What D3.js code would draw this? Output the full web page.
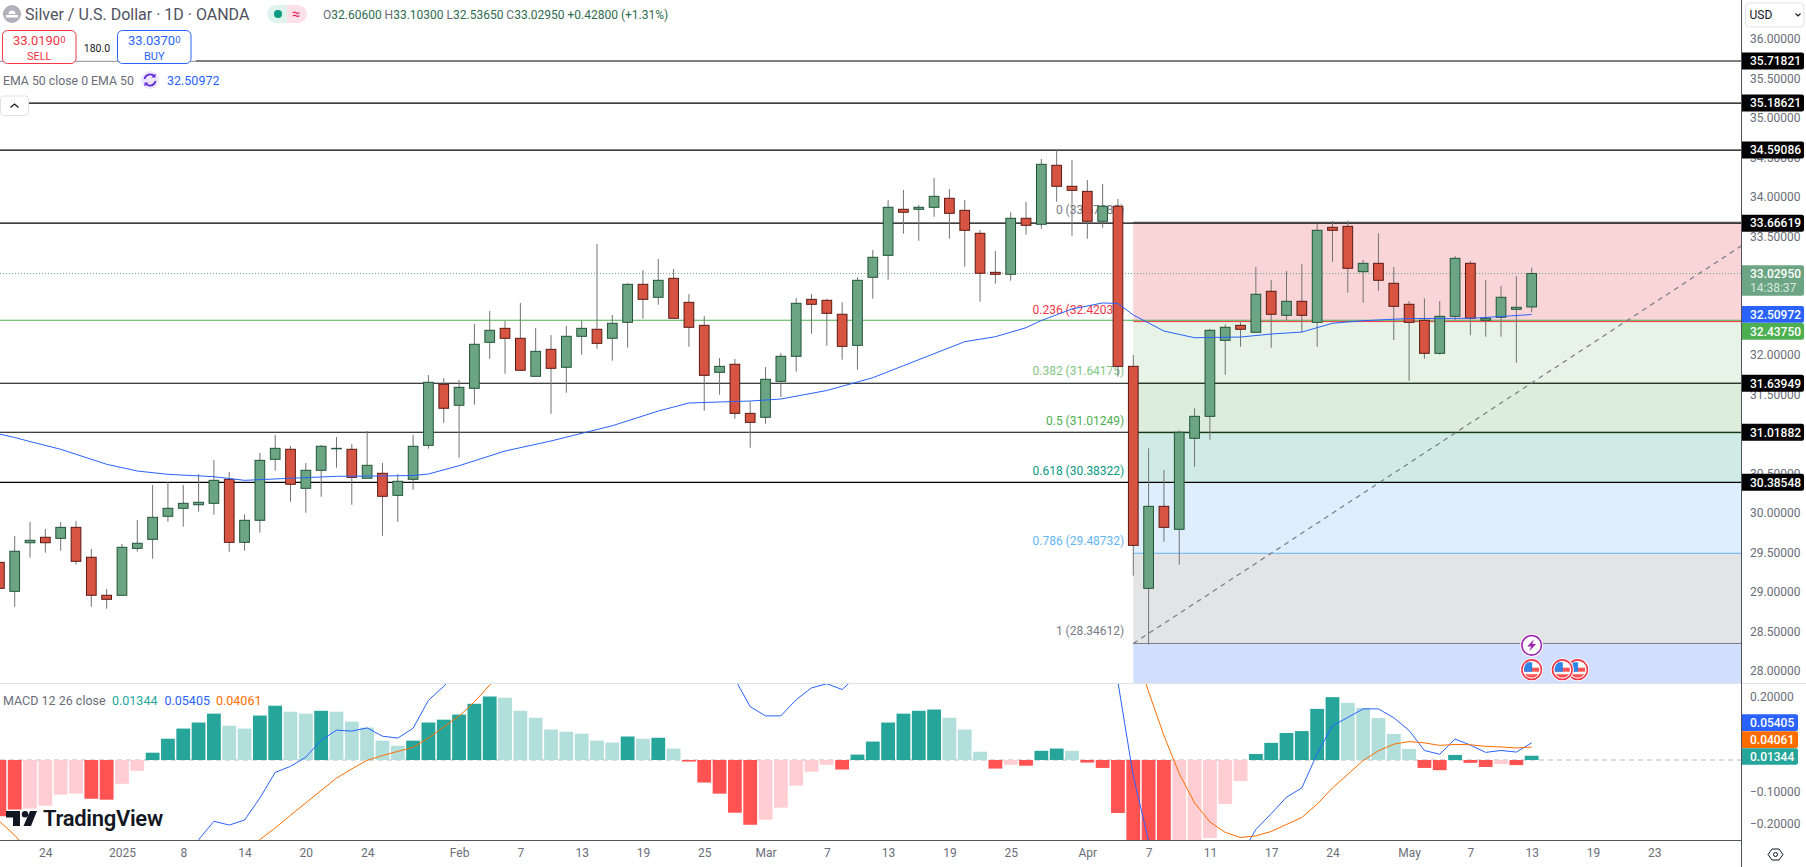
<!DOCTYPE html>
<html>
<head>
<meta charset="utf-8">
<script src="https://cdn.jsdelivr.net/npm/d3@7"></script>
<style>
  html, body { margin: 0; padding: 0; background: #fff; }
  svg { display: block; }
  text { font-family: Roboto, "Liberation Sans", sans-serif; }
</style>
</head>
<body>
<svg id="chart" width="1806" height="867"></svg>
<script>
// Daily candles, oldest first (first one is cut by the left edge)
var opens = [
  29.373, 29.006, 29.621, 29.690, 29.677, 29.816, 29.437, 28.956, 28.956, 29.550,
  29.664, 29.956, 30.057, 30.102, 30.120, 30.424, 29.626, 29.905, 30.677, 30.804,
  30.310, 30.538, 30.810, 30.804, 30.437, 30.500, 30.221, 30.424, 30.854, 31.626,
  31.361, 31.576, 32.158, 32.335, 32.209, 31.728, 32.069, 31.842, 32.234, 32.323,
  32.209, 32.411, 32.892, 32.728, 32.968, 32.664, 32.373, 31.778, 31.880, 31.259,
  31.209, 31.664, 31.981, 32.702, 32.690, 32.513, 32.120, 32.981, 33.259, 33.842,
  33.842, 33.867, 33.981, 33.829, 33.538, 33.044, 33.019, 33.728, 33.652, 34.399,
  34.133, 34.069, 33.690, 33.880, 31.854, 29.044, 30.082, 29.791, 30.943, 31.221,
  32.183, 32.373, 32.285, 32.804, 32.500, 32.677, 32.411, 33.614, 33.626, 33.052,
  33.158, 32.905, 32.639, 32.437, 32.019, 32.487, 33.158, 32.437, 32.475, 32.576,
  32.606];
var highs = [
  29.373, 29.706, 29.883, 29.795, 29.883, 29.896, 29.542, 29.035, 29.605, 29.909,
  30.352, 30.390, 30.352, 30.491, 30.668, 30.516, 29.981, 30.757, 30.985, 30.845,
  30.630, 30.858, 30.959, 30.871, 31.035, 30.630, 30.491, 30.985, 31.744, 31.706,
  31.681, 32.390, 32.554, 32.432, 32.656, 32.339, 32.250, 32.364, 32.432, 33.402,
  32.504, 32.905, 33.073, 33.213, 33.086, 32.769, 32.491, 31.959, 31.947, 31.411,
  31.845, 32.023, 32.719, 32.769, 32.706, 32.664, 32.981, 33.326, 33.959, 34.086,
  33.896, 34.238, 34.099, 33.959, 33.580, 33.314, 33.804, 33.934, 34.478, 34.592,
  34.466, 34.213, 34.162, 33.972, 31.997, 30.816, 30.542, 31.044, 31.323, 32.326,
  32.386, 32.411, 33.111, 32.947, 33.061, 33.149, 33.664, 33.694, 33.697, 33.200,
  33.538, 33.111, 32.681, 32.715, 32.681, 33.250, 33.187, 32.947, 32.871, 32.997,
  33.103];
var lows = [
  29.044, 28.811, 29.432, 29.495, 29.520, 29.343, 28.811, 28.786, 28.956, 29.507,
  29.419, 29.887, 29.824, 30.014, 29.976, 29.507, 29.520, 29.748, 30.533, 30.140,
  30.001, 30.204, 30.571, 30.102, 30.437, 29.710, 29.887, 30.292, 30.811, 31.140,
  30.697, 31.368, 31.950, 31.761, 31.804, 31.728, 31.254, 31.520, 32.001, 32.077,
  31.925, 32.090, 32.457, 32.634, 32.462, 32.102, 31.292, 31.495, 31.191, 30.824,
  31.128, 31.466, 31.786, 32.267, 32.115, 31.938, 31.811, 32.710, 32.950, 33.533,
  33.444, 33.748, 33.469, 33.115, 32.672, 32.900, 32.938, 33.520, 33.596, 33.938,
  33.507, 33.469, 33.609, 31.723, 29.204, 28.335, 29.634, 29.343, 30.583, 30.925,
  31.748, 32.102, 32.285, 32.090, 32.432, 32.285, 32.102, 33.178, 32.786, 32.659,
  32.811, 32.187, 31.672, 31.950, 32.001, 32.440, 32.250, 32.229, 32.229, 31.900,
  32.5365];
var closes = [
  29.044, 29.513, 29.652, 29.621, 29.816, 29.386, 28.956, 28.905, 29.563, 29.614,
  29.943, 30.057, 30.120, 30.133, 30.411, 29.626, 29.905, 30.664, 30.816, 30.361,
  30.538, 30.842, 30.816, 30.449, 30.601, 30.209, 30.399, 30.842, 31.652, 31.323,
  31.588, 32.133, 32.310, 32.209, 31.804, 32.044, 31.829, 32.234, 32.335, 32.145,
  32.399, 32.892, 32.702, 32.943, 32.462, 32.348, 31.740, 31.854, 31.259, 31.145,
  31.690, 31.981, 32.652, 32.639, 32.525, 32.107, 32.943, 33.234, 33.867, 33.804,
  33.867, 34.006, 33.791, 33.576, 33.032, 33.019, 33.728, 33.639, 34.411, 34.133,
  34.082, 33.690, 33.880, 31.854, 29.588, 30.082, 29.816, 31.019, 31.221, 32.310,
  32.348, 32.323, 32.766, 32.513, 32.677, 32.500, 33.576, 33.576, 33.095, 33.158,
  32.943, 32.614, 32.411, 32.019, 32.487, 33.221, 32.462, 32.462, 32.728, 32.601,
  33.0295];

// EMA 50, read at these candle positions
var emaDays = [0, 1, 2, 4, 7, 9, 11, 14, 16, 19, 22, 25, 27, 28, 30, 33, 36, 40, 43, 45, 49, 51, 54, 57, 59, 63, 65, 67, 68, 70, 72, 73, 74, 76, 78, 81, 83, 85, 87, 89, 92, 96, 98, 100];
var emaValues = [30.997, 30.953, 30.902, 30.804, 30.614, 30.529, 30.487, 30.457, 30.411, 30.437, 30.462, 30.466, 30.472, 30.491, 30.596, 30.782, 30.909, 31.102, 31.288, 31.390, 31.415, 31.440, 31.548, 31.710, 31.862, 32.166, 32.229, 32.343, 32.434, 32.580, 32.656, 32.649, 32.504, 32.301, 32.216, 32.225, 32.263, 32.288, 32.399, 32.432, 32.459, 32.462, 32.485, 32.50972];

// Drawn levels
var levelPrices = [35.71821, 35.18621, 34.59086, 33.66619, 31.63949, 31.01882, 30.38548];
var greenLevel = 32.43750;
var lastPrice = 33.02950;

// Fibonacci retracement
var fibRatios = ["0", "0.236", "0.382", "0.5", "0.618", "0.786", "1"];
var fibPrices = [33.67885, 32.42033, 31.64175, 31.01249, 30.38322, 29.48732, 28.34612];
var trendDays = [74, 113.7];
var trendPrices = [28.34612, 33.381];

// MACD histogram, one value per candle (the deep ones run past the pane bottom)
var histValues = [
  -0.177, -0.156, -0.153, -0.144, -0.109, -0.106, -0.122, -0.125, -0.075, -0.034,
  0.023, 0.067, 0.099, 0.118, 0.146, 0.108, 0.099, 0.140, 0.171, 0.152,
  0.146, 0.155, 0.152, 0.121, 0.102, 0.061, 0.045, 0.061, 0.118, 0.127,
  0.143, 0.177, 0.200, 0.196, 0.155, 0.133, 0.096, 0.089, 0.083, 0.061,
  0.055, 0.074, 0.067, 0.070, 0.036, -0.005, -0.071, -0.106, -0.166, -0.204,
  -0.188, -0.150, -0.081, -0.037, -0.015, -0.030, 0.017, 0.058, 0.118, 0.146,
  0.155, 0.159, 0.133, 0.096, 0.026, -0.027, -0.015, -0.018, 0.029, 0.036,
  0.029, -0.008, -0.025, -0.167, -0.310, -0.360, -0.400, -0.350, -0.300, -0.246,
  -0.139, -0.066, 0.019, 0.054, 0.085, 0.091, 0.161, 0.198, 0.180, 0.164,
  0.132, 0.082, 0.035, -0.025, -0.032, 0.016, -0.009, -0.022, -0.013, -0.016,
  0.01344];

// MACD and signal lines, read where they show in the pane
var macdDays = [12, 13, 14, 15, 16, 17, 18, 19, 20, 21, 22, 23, 24, 25, 26, 27, 28, 29, 30, 47, 48, 49, 50, 51, 52, 53, 54, 55, 56, 72, 73, 74, 75, 76, 77, 78, 79, 80, 81, 82, 83, 84, 85, 86, 87, 88, 89, 90, 91, 92, 93, 94, 95, 96, 97, 98, 99, 100];
var macdValues = [-0.330, -0.251, -0.193, -0.205, -0.189, -0.120, -0.039, -0.020, 0.009, 0.062, 0.094, 0.091, 0.101, 0.075, 0.069, 0.100, 0.188, 0.232, 0.290, 0.320, 0.255, 0.168, 0.139, 0.139, 0.190, 0.227, 0.240, 0.222, 0.266, 0.450, 0.245, -0.051, -0.255, -0.420, -0.470, -0.470, -0.420, -0.360, -0.302, -0.219, -0.169, -0.117, -0.088, 0.020, 0.108, 0.134, 0.161, 0.161, 0.133, 0.093, 0.030, 0.018, 0.066, 0.047, 0.024, 0.030, 0.025, 0.05405];
var signalDays = [0, 1, 2, 16, 17, 18, 19, 20, 21, 22, 23, 24, 25, 26, 27, 28, 29, 30, 31, 32, 33, 74, 75, 76, 77, 78, 79, 80, 81, 82, 83, 84, 85, 86, 87, 88, 89, 90, 91, 92, 93, 94, 95, 96, 97, 98, 99, 100];
var signalValues = [-0.193, -0.237, -0.290, -0.290, -0.251, -0.214, -0.174, -0.135, -0.096, -0.057, -0.028, -0.001, 0.014, 0.027, 0.040, 0.069, 0.104, 0.138, 0.183, 0.236, 0.280, 0.360, 0.215, 0.077, -0.043, -0.135, -0.195, -0.228, -0.244, -0.239, -0.225, -0.203, -0.181, -0.139, -0.088, -0.045, -0.002, 0.029, 0.050, 0.058, 0.054, 0.046, 0.049, 0.048, 0.043, 0.041, 0.038, 0.04061];

// Axis labels
var priceTicks = [36, 35.5, 35, 34.5, 34, 33.5, 33, 32.5, 32, 31.5, 31, 30.5, 30, 29.5, 29, 28.5, 28];
var macdTicks = [0.2, -0.1, -0.2];
var timeTicks = [3, 8, 12, 16, 20, 24, 30, 34, 38, 42, 46, 50, 54, 58, 62, 66, 71, 75, 79, 83, 87, 92, 96, 100, 104, 108];
var timeLabels = ["24", "2025", "8", "14", "20", "24", "Feb", "7", "13", "19", "25", "Mar", "7", "13", "19", "25", "Apr", "7", "11", "17", "24", "May", "7", "13", "19", "23"];
var eventDays = [100, 102, 103];

var W = 1806, H = 867;
var axisX = 1741.5, paneBottom = 683, macdBottom = 840;
var GREY = "#6a6d78";
var fmt = d3.format(".5f");

var svg = d3.select("#chart");

var x = d3.scaleLinear().domain([0, 100]).range([-0.62, 1531.68]);
var y = d3.scaleLinear().domain([36, 28]).range([38.8, 670.8]);
var yMacd = d3.scaleLinear().domain([0.2, -0.2]).range([696.5, 823.5]);

svg.append("rect").attr("width", W).attr("height", H).attr("fill", "#fff");

var defs = svg.append("defs");
defs.append("clipPath").attr("id", "priceClip").append("rect")
  .attr("width", axisX).attr("height", paneBottom);
defs.append("clipPath").attr("id", "macdClip").append("rect")
  .attr("y", paneBottom).attr("width", axisX).attr("height", macdBottom - paneBottom);

// ---- price pane ----
var pricePane = svg.append("g").attr("clip-path", "url(#priceClip)");

// Fib bands
var fibFills = ["#fad5d8", "#e6f3e6", "#dceedb", "#d0ebe5", "#dfeefc", "#e3e4e6", "#d1dffd"];
var fibLines = ["#787b86", "#f23645", "#81c784", "#4caf50", "#089981", "#64b5f6", "#787b86"];
var fibLeft = x(74);
pricePane.selectAll("rect.fib").data(fibPrices).join("rect")
  .attr("class", "fib")
  .attr("x", fibLeft)
  .attr("width", axisX - fibLeft)
  .attr("y", d => y(d))
  .attr("height", (d, i) => (i < fibPrices.length - 1 ? y(fibPrices[i + 1]) : paneBottom) - y(d))
  .attr("fill", (d, i) => fibFills[i]);
pricePane.selectAll("line.fib").data(fibPrices).join("line")
  .attr("class", "fib")
  .attr("x1", fibLeft).attr("x2", axisX)
  .attr("y1", d => y(d)).attr("y2", d => y(d))
  .attr("stroke", (d, i) => fibLines[i]);
pricePane.selectAll("text.fib").data(fibPrices).join("text")
  .attr("class", "fib")
  .attr("x", fibLeft - 9)
  .attr("y", d => y(d) - 8)
  .attr("text-anchor", "end")
  .attr("font-size", 12)
  .attr("fill", (d, i) => fibLines[i])
  .text((d, i) => fibRatios[i] + " (" + fmt(d) + ")");

// Levels
pricePane.selectAll("line.level").data(levelPrices).join("line")
  .attr("class", "level")
  .attr("x1", 0).attr("x2", axisX)
  .attr("y1", d => y(d)).attr("y2", d => y(d))
  .attr("stroke", "#000").attr("stroke-width", 1.1);
pricePane.append("line")
  .attr("x1", 0).attr("x2", axisX)
  .attr("y1", y(greenLevel)).attr("y2", y(greenLevel))
  .attr("stroke", "#4caf50").attr("stroke-width", 1.1);
pricePane.append("line")
  .attr("x1", 0).attr("x2", axisX)
  .attr("y1", y(lastPrice)).attr("y2", y(lastPrice))
  .attr("stroke", "#6ba583").attr("stroke-dasharray", "1 2");

// Trend line of the fib tool
pricePane.append("line")
  .attr("x1", x(trendDays[0])).attr("x2", x(trendDays[1]))
  .attr("y1", y(trendPrices[0])).attr("y2", y(trendPrices[1]))
  .attr("stroke", "#787b86").attr("stroke-width", 1.2).attr("stroke-dasharray", "5 4.5");

// Candles
var candles = pricePane.selectAll("g.candle").data(opens).join("g").attr("class", "candle");
candles.append("line")
  .attr("x1", (d, i) => x(i)).attr("x2", (d, i) => x(i))
  .attr("y1", (d, i) => y(highs[i])).attr("y2", (d, i) => y(lows[i]))
  .attr("stroke", "#737375");
candles.append("rect")
  .attr("x", (d, i) => x(i) - 4.85)
  .attr("width", 9.7)
  .attr("y", (d, i) => y(Math.max(d, closes[i])))
  .attr("height", (d, i) => Math.abs(y(d) - y(closes[i])))
  .attr("fill", (d, i) => closes[i] >= d ? "#6ba583" : "#d75442")
  .attr("stroke", (d, i) => closes[i] >= d ? "#225437" : "#5b1a13");

// EMA
var emaLine = d3.line().x((d, i) => x(emaDays[i])).y(d => y(d));
pricePane.append("path")
  .attr("d", emaLine(emaValues))
  .attr("fill", "none").attr("stroke", "#2962ff");

// ---- MACD pane ----
var macdPane = svg.append("g").attr("clip-path", "url(#macdClip)");
macdPane.append("line")
  .attr("x1", 0).attr("x2", axisX)
  .attr("y1", yMacd(0)).attr("y2", yMacd(0))
  .attr("stroke", "#b2b5be").attr("stroke-dasharray", "5 4");

function histColor(d, i) {
  var rising = i > 0 && d > histValues[i - 1];
  if (d >= 0) return rising ? "#26a69a" : "#b2dfdb";
  // the two leftmost bars are dark in the picture
  return (i < 2 || !rising) ? "#ff5252" : "#ffcdd2";
}
macdPane.selectAll("rect.hist").data(histValues).join("rect")
  .attr("class", "hist")
  .attr("x", (d, i) => x(i) - 6.9)
  .attr("width", 13.8)
  .attr("y", d => Math.min(yMacd(d), yMacd(0)))
  .attr("height", d => Math.abs(yMacd(d) - yMacd(0)))
  .attr("fill", histColor);

var macdLine = d3.line().x((d, i) => x(macdDays[i])).y(d => yMacd(d));
var signalLine = d3.line().x((d, i) => x(signalDays[i])).y(d => yMacd(d));
macdPane.append("path").attr("d", macdLine(macdValues))
  .attr("fill", "none").attr("stroke", "#2962ff");
macdPane.append("path").attr("d", signalLine(signalValues))
  .attr("fill", "none").attr("stroke", "#ff6d00");

// TradingView logo
var logo = svg.append("g").attr("transform", "translate(6,811)").attr("fill", "#131722");
logo.append("path").attr("d", "M0 0H14V15H7V6.5H0Z");
logo.append("circle").attr("cx", 19).attr("cy", 3.2).attr("r", 3.2);
logo.append("path").attr("d", "M24 0H31L25 15H17.5Z");
svg.append("text").attr("x", 43).attr("y", 825.5)
  .attr("font-size", 22).attr("font-weight", 600).attr("fill", "#131722")
  .attr("letter-spacing", "-0.3")
  .text("TradingView");

// ---- axes ----
svg.append("line").attr("x1", 0).attr("x2", W)
  .attr("y1", paneBottom + 0.5).attr("y2", paneBottom + 0.5).attr("stroke", "#e0e3eb");
svg.append("line").attr("x1", 0).attr("x2", axisX)
  .attr("y1", macdBottom + 0.5).attr("y2", macdBottom + 0.5).attr("stroke", "#50535e");
svg.append("line").attr("x1", axisX).attr("x2", axisX)
  .attr("y1", 0).attr("y2", H).attr("stroke", "#50535e");

function styleAxis(g) {
  g.select(".domain").remove();
  g.selectAll("text").attr("fill", GREY).attr("font-size", 12)
    .style("font-family", "Roboto, 'Liberation Sans', sans-serif");
}
svg.append("g").attr("transform", "translate(1750,0)")
  .call(d3.axisRight(y).tickValues(priceTicks).tickSize(0).tickPadding(0).tickFormat(fmt))
  .call(styleAxis);
svg.append("g").attr("transform", "translate(1750,0)")
  .call(d3.axisRight(yMacd).tickValues(macdTicks).tickSize(0).tickPadding(0).tickFormat(fmt))
  .call(styleAxis);
svg.append("g").attr("transform", "translate(0," + macdBottom + ")")
  .call(d3.axisBottom(x).tickValues(timeTicks).tickSize(0).tickPadding(8).tickFormat((d, i) => timeLabels[i]))
  .call(styleAxis);

// ---- value tags on the right axis ----
function tag(yPos, h, w, fill, label, textY) {
  svg.append("path")
    .attr("d", "M" + (axisX + 0.5) + " " + (yPos - h / 2) + "h" + (w - 2) + "a2 2 0 0 1 2 2v" + (h - 4) + "a2 2 0 0 1 -2 2h" + (2 - w) + "Z")
    .attr("fill", fill);
  svg.append("text").attr("x", 1750).attr("y", textY || yPos + 4.3)
    .attr("font-size", 12).attr("font-weight", 500).attr("fill", "#fff").text(label);
}
levelPrices.forEach(d => tag(y(d), 17, 62, "#000", fmt(d)));
tag(280.5, 30.5, 62, "#6ba583", fmt(lastPrice), 277.5);
svg.append("text").attr("x", 1750).attr("y", 291.5).attr("font-size", 12)
  .attr("fill", "#d8e8df").text("14:38:37");
tag(314.3, 16.7, 62, "#2962ff", fmt(emaValues[emaValues.length - 1]));
tag(331.3, 16.7, 62, "#4caf50", fmt(greenLevel));
tag(722.7, 16.7, 56, "#2962ff", fmt(macdValues[macdValues.length - 1]));
tag(739.6, 16.7, 56, "#ff6d00", fmt(signalValues[signalValues.length - 1]));
tag(756.5, 16.7, 56, "#26a69a", fmt(histValues[histValues.length - 1]));

// USD button
svg.append("rect").attr("x", 1745.5).attr("y", 3).attr("width", 58.5).attr("height", 24)
  .attr("rx", 4).attr("fill", "#fff").attr("stroke", "#e0e3eb");
svg.append("text").attr("x", 1749.5).attr("y", 19).attr("font-size", 12).attr("fill", "#131722").text("USD");
svg.append("path").attr("d", "M1795.5 13.5l2.5 2.5l2.5 -2.5").attr("fill", "none").attr("stroke", "#131722").attr("stroke-width", 1.1);

// Settings hexagon
var gear = svg.append("g").attr("transform", "translate(1775.5,854.5)").attr("fill", "none").attr("stroke", "#131722");
gear.append("path").attr("d", "M-7.5 0L-3.5 -5.5H3.5L7.5 0L3.5 5.5H-3.5Z");
gear.append("circle").attr("r", 2);

// ---- events ----
function flagIcon(cx) {
  var g = svg.append("g").attr("transform", "translate(" + cx + "," + 669.7 + ")");
  g.append("circle").attr("r", 11.5).attr("fill", "#fff");
  g.append("circle").attr("r", 9.8).attr("fill", "#fff").attr("stroke", "#f23645").attr("stroke-width", 1.6);
  g.append("path").attr("d", "M-7.5 -2H7.5V2H-7.5Z").attr("fill", "#ff5252");
  g.append("path").attr("d", "M-6.5 4.5H6.5A8 8 0 0 1 -6.5 4.5Z").attr("fill", "#ff5252");
  g.append("path").attr("d", "M-7.5 -1.5V2H0.5V-7.5H-4A8 8 0 0 0 -7.5 -1.5Z").attr("fill", "#2f86e6");
}
eventDays.slice().reverse().forEach(d => flagIcon(x(d)));
var bolt = svg.append("g").attr("transform", "translate(" + x(eventDays[0]) + ",645.3)");
bolt.append("circle").attr("r", 11.5).attr("fill", "#fff");
bolt.append("circle").attr("r", 9.8).attr("fill", "#fff").attr("stroke", "#9c27b0").attr("stroke-width", 1.6);
bolt.append("path").attr("d", "M2.5 -6L-4.5 1.2H-0.5L-2.5 6L4.5 -1.2H0.5Z").attr("fill", "#9c27b0");

// ---- legend ----
svg.append("circle").attr("cx", 12).attr("cy", 14).attr("r", 9).attr("fill", "#b2b0bb");
svg.append("path").attr("d", "M6 15h12v2.5h-12zM8.5 14a3.5 3.5 0 0 1 7 0z").attr("fill", "#fff");
svg.append("text").attr("x", 25).attr("y", 19.5).attr("font-size", 16).attr("fill", "#4f525e")
  .text("Silver / U.S. Dollar · 1D · OANDA");

svg.append("path").attr("d", "M287 5H276a9 9 0 0 0 0 18H287Z").attr("fill", "#dff3ee");
svg.append("path").attr("d", "M287 5H298a9 9 0 0 1 0 18H287Z").attr("fill", "#fde0e8");
svg.append("circle").attr("cx", 278).attr("cy", 14).attr("r", 4).attr("fill", "#089981");
svg.append("text").attr("x", 296).attr("y", 19).attr("text-anchor", "middle")
  .attr("font-size", 15).attr("fill", "#e91e63").text("≈");

var ohlc = svg.append("text").attr("x", 323).attr("y", 19).attr("font-size", 12);
[["O", GREY], ["32.60600", "#2e6b4f"], [" H", GREY], ["33.10300", "#2e6b4f"], [" L", GREY], ["32.53650", "#2e6b4f"], [" C", GREY], ["33.02950", "#2e6b4f"], [" +0.42800 (+1.31%)", "#2e6b4f"]]
  .forEach(p => ohlc.append("tspan").attr("fill", p[1]).attr("xml:space", "preserve").text(p[0]));

// Sell / buy boxes sit on top of the first level line
svg.append("rect").attr("x", 0).attr("y", 28).attr("width", 196).attr("height", 37).attr("fill", "#fff");
svg.append("line").attr("x1", 0).attr("x2", 196).attr("y1", 61.3).attr("y2", 61.3).attr("stroke", "#8a8d96");
function quoteBox(bx, color, price, small, side) {
  svg.append("rect").attr("x", bx).attr("y", 30.5).attr("width", 73.5).attr("height", 33)
    .attr("rx", 5).attr("fill", "#fff").attr("stroke", color);
  var t = svg.append("text").attr("x", bx + 36.7).attr("y", 45).attr("text-anchor", "middle")
    .attr("font-size", 13).attr("fill", color).text(price);
  t.append("tspan").attr("font-size", 9.5).attr("dy", -2).text(small);
  svg.append("text").attr("x", bx + 36.7).attr("y", 59.5).attr("text-anchor", "middle")
    .attr("font-size", 11).attr("fill", color).text(side);
}
quoteBox(2.5, "#f23645", "33.0190", "0", "SELL");
quoteBox(117.5, "#2962ff", "33.0370", "0", "BUY");
svg.append("text").attr("x", 97).attr("y", 51.5).attr("text-anchor", "middle")
  .attr("font-size", 10.5).attr("fill", "#131722").text("180.0");

// EMA legend
svg.append("text").attr("x", 3).attr("y", 85).attr("font-size", 12.3).attr("fill", GREY)
  .text("EMA 50 close 0 EMA 50");
svg.append("circle").attr("cx", 150).attr("cy", 80).attr("r", 9).attr("fill", "#efe5fd");
svg.append("path").attr("d", "M144.5 79a5.7 5.7 0 0 1 10 -2.5M155.5 81a5.7 5.7 0 0 1 -10 2.5")
  .attr("fill", "none").attr("stroke", "#5e2bd8").attr("stroke-width", 1.7);
svg.append("path").attr("d", "M155.5 73.5v4h-4zM144.5 86.5v-4h4z").attr("fill", "#5e2bd8");
svg.append("text").attr("x", 167).attr("y", 85).attr("font-size", 12.5).attr("fill", "#2962ff")
  .text(fmt(emaValues[emaValues.length - 1]));

// Collapse button
svg.append("rect").attr("x", 0.5).attr("y", 96).attr("width", 28).attr("height", 19.5)
  .attr("rx", 3).attr("fill", "#fff").attr("stroke", "#e0e3eb");
svg.append("path").attr("d", "M10.5 107.5l4 -3.5l4 3.5").attr("fill", "none").attr("stroke", "#131722").attr("stroke-width", 1.3);

// MACD legend
svg.append("text").attr("x", 3).attr("y", 705).attr("font-size", 12.5).attr("fill", GREY).text("MACD 12 26 close");
svg.append("text").attr("x", 112).attr("y", 705).attr("font-size", 12.5).attr("fill", "#26a69a").text(fmt(histValues[histValues.length - 1]));
svg.append("text").attr("x", 164.5).attr("y", 705).attr("font-size", 12.5).attr("fill", "#2962ff").text(fmt(macdValues[macdValues.length - 1]));
svg.append("text").attr("x", 216).attr("y", 705).attr("font-size", 12.5).attr("fill", "#ff6d00").text(fmt(signalValues[signalValues.length - 1]));
</script>
</body>
</html>
